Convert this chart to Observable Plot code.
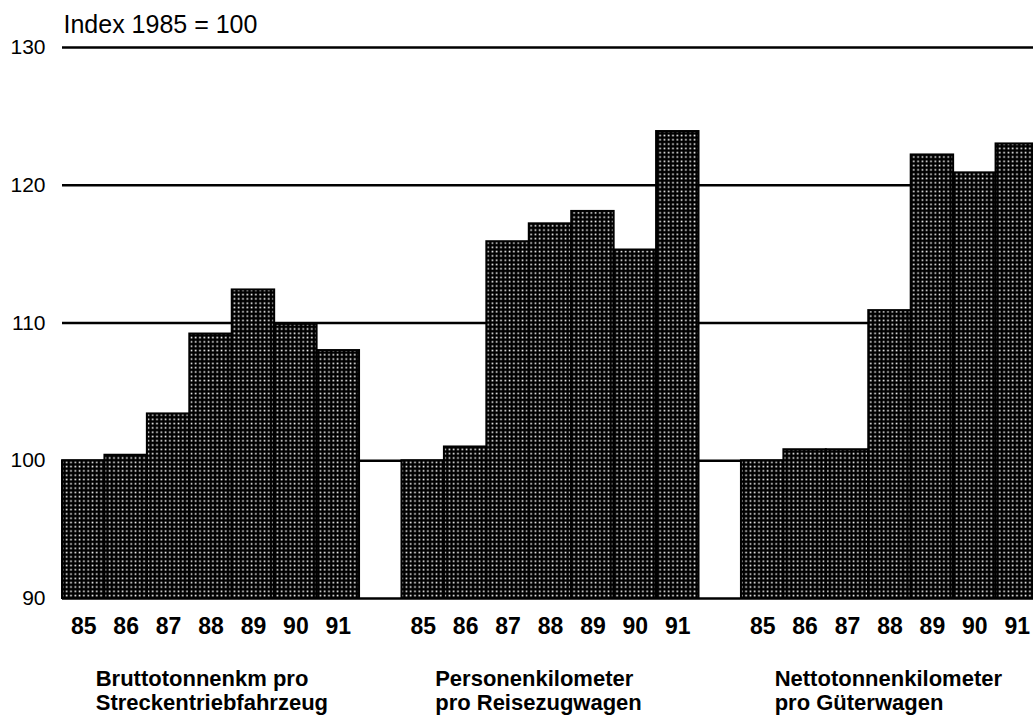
<!DOCTYPE html>
<html><head><meta charset="utf-8">
<script src="https://cdn.jsdelivr.net/npm/d3@7"></script>
<script src="https://cdn.jsdelivr.net/npm/@observablehq/plot@0.6"></script>
<style>
html,body{margin:0;padding:0;background:#fff;overflow:hidden;}
#chart{width:1033px;height:718px;}
</style></head><body><div id="chart"></div>
<script>
const years = ["85","86","87","88","89","90","91"];
const groupLabels = [
  "Bruttotonnenkm pro\nStreckentriebfahrzeug",
  "Personenkilometer\npro Reisezugwagen",
  "Nettotonnenkilometer\npro Güterwagen"
];
const values1 = [100, 100.4, 103.4, 109.2, 112.4, 109.9, 108.0];
const values2 = [100, 101.0, 115.9, 117.2, 118.1, 115.3, 123.9];
const values3 = [100, 100.8, 100.8, 110.9, 122.2, 120.9, 123.0];
const yTicks = [90, 100, 110, 120, 130];
const gridValues = [100, 110, 120, 130];
const baseValue = 90;
const title = "Index 1985 = 100";

const seriesValues = [values1, values2, values3];
const slots = [];
const bars = [];
const tickSlots = [];
seriesValues.forEach((vals, g) => {
  years.forEach((yr, i) => {
    const s = `${g}-${yr}`;
    slots.push(s); tickSlots.push(s);
    bars.push({slot: s, value: vals[i]});
  });
  if (g < seriesValues.length - 1) slots.push(`gap${g}`);
});
const labelData = groupLabels.map((label, g) => ({slot: `${g}-${years[0]}`, label}));

const font = "'Liberation Sans', Arial, Helvetica, sans-serif";

const chart = Plot.plot({
  width: 1033,
  height: 718,
  marginTop: 47,
  marginBottom: 120,
  marginLeft: 62,
  marginRight: 0,
  style: {fontFamily: font, color: "#000", background: "#fff", overflow: "hidden"},
  x: {type: "band", domain: slots, range: [62, 1038], padding: 0, round: false},
  y: {domain: [90, 130]},
  marks: [
    Plot.ruleY(gridValues, {stroke: "#000", strokeWidth: 2.5}),
    Plot.ruleY([baseValue], {stroke: "#000", strokeWidth: 2.5}),
    Plot.barY(bars, {x: "slot", y1: baseValue, y2: "value", fill: "url(#dots)", stroke: "#000", strokeWidth: 2, inset: 0}),
    Plot.axisY({ticks: yTicks, tickSize: 0, tickPadding: 17, fontSize: 21, label: null, fill: "#000"}),
    Plot.axisX({ticks: tickSlots, tickFormat: d => d.split("-")[1], tickSize: 0, tickPadding: 19, fontSize: 23, fontWeight: "bold", label: null, fill: "#000"}),
    Plot.text(labelData, {x: "slot", text: "label", frameAnchor: "bottom", textAnchor: "start", lineAnchor: "top", dy: 71, dx: 12, fontSize: 22, fontWeight: "bold", lineHeight: 1.08, fill: "#000"}),
    Plot.text([title], {frameAnchor: "top-left", textAnchor: "start", lineAnchor: "top", dy: -32, dx: 1, fontSize: 25, fill: "#000"})
  ]
});

const defs = document.createElementNS("http://www.w3.org/2000/svg", "defs");
defs.innerHTML = '<pattern id="dots" width="4.3" height="4.3" patternUnits="userSpaceOnUse"><rect width="4.3" height="4.3" fill="#000"/><rect x="1.4" y="1.4" width="1.6" height="1.6" fill="#fff"/></pattern>';
chart.insertBefore(defs, chart.firstChild);
document.getElementById("chart").appendChild(chart);
</script>
</body></html>
